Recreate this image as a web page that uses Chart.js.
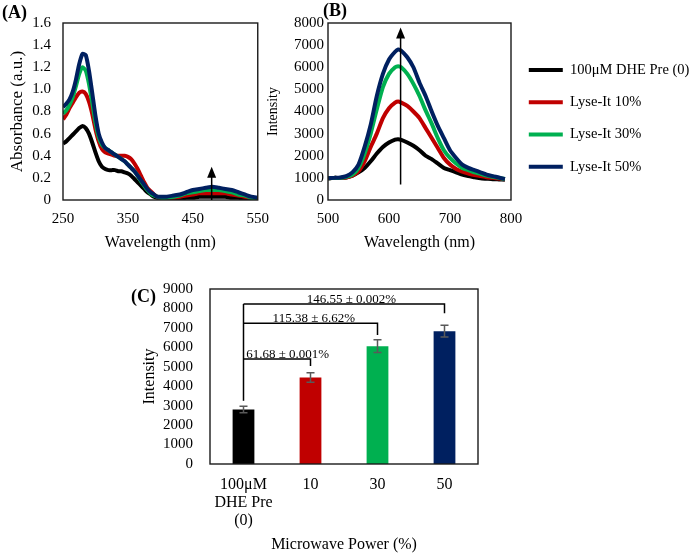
<!DOCTYPE html>
<html>
<head>
<meta charset="utf-8">
<script src="https://cdn.jsdelivr.net/npm/chart.js@4.4.1/dist/chart.umd.min.js"></script>
<style>
  body { margin: 0; background: #fff; }
  #wrap { position: relative; width: 691px; height: 554px; overflow: hidden; }
  canvas { position: absolute; }
  .tag { position: absolute; font: bold 18px "Liberation Serif", serif; line-height: 18px; color: #000; }
</style>
</head>
<body>
<div id="wrap">
  <canvas id="absChart" width="279" height="254" style="left:0;top:0"></canvas>
  <canvas id="flChart" width="429" height="254" style="left:262px;top:0"></canvas>
  <canvas id="barChart" width="365" height="292" style="left:130px;top:262px"></canvas>
  <div class="tag" style="left:2px;top:3px">(A)</div>
  <div class="tag" style="left:323px;top:1px">(B)</div>
  <div class="tag" style="left:131px;top:287px">(C)</div>
</div>
<script>
// ---- data ----
const seriesNames = ["100\u03bcM DHE Pre (0)", "Lyse-It 10%", "Lyse-It 30%", "Lyse-It 50%"];
const seriesColors = ["#000000", "#C00000", "#00B050", "#002060"];

// (A) absorbance
const wlA = [250,255,260,265,270,275,280,285,290,295,300,305,310,315,320,325,330,335,340,345,350,355,360,365,370,375,380,385,390,395,400,
             410,420,430,440,450,460,470,480,490,500,510,520,530,540,550];
const absPre = [0.51,0.53,0.56,0.59,0.62,0.65,0.67,0.65,0.60,0.52,0.43,0.35,0.30,0.28,0.27,0.27,0.27,0.26,0.26,0.25,0.24,0.22,0.19,0.16,0.13,0.10,0.07,0.05,0.03,0.02,0.02,
                0.01,0.01,0.01,0.02,0.02,0.03,0.03,0.03,0.03,0.03,0.02,0.02,0.01,0.01,0.01];
const abs10 = [0.73,0.77,0.83,0.88,0.93,0.97,0.98,0.96,0.89,0.78,0.64,0.53,0.46,0.43,0.42,0.41,0.40,0.40,0.40,0.40,0.39,0.37,0.33,0.28,0.22,0.16,0.11,0.08,0.05,0.03,0.02,
               0.02,0.02,0.03,0.04,0.05,0.06,0.06,0.06,0.06,0.06,0.05,0.04,0.03,0.02,0.01];
const abs30 = [0.78,0.81,0.86,0.93,1.03,1.14,1.20,1.17,1.05,0.88,0.70,0.57,0.50,0.47,0.45,0.43,0.41,0.39,0.37,0.35,0.32,0.29,0.26,0.22,0.17,0.13,0.09,0.06,0.04,0.03,0.02,
               0.02,0.03,0.04,0.06,0.07,0.08,0.09,0.09,0.09,0.08,0.07,0.05,0.04,0.02,0.01];
const abs50 = [0.84,0.87,0.91,0.98,1.09,1.23,1.32,1.31,1.17,0.97,0.76,0.60,0.52,0.47,0.45,0.43,0.41,0.39,0.37,0.35,0.32,0.29,0.26,0.22,0.18,0.14,0.10,0.07,0.05,0.03,0.03,
               0.03,0.04,0.05,0.07,0.09,0.10,0.11,0.12,0.11,0.10,0.09,0.07,0.05,0.03,0.02];

// (B) fluorescence
const wlB = [500,510,520,530,540,550,560,570,580,590,600,610,615,620,630,640,650,660,670,680,690,700,710,720,730,740,750,760,770,780,790];
const flPre = [980,1000,1000,1020,1100,1250,1450,1750,2100,2400,2600,2730,2750,2720,2600,2450,2250,2000,1850,1650,1450,1350,1250,1150,1080,1030,980,960,940,930,920];
const fl10  = [980,1000,1000,1020,1100,1300,1750,2400,3000,3700,4150,4400,4450,4400,4250,4000,3700,3250,2800,2350,1900,1600,1400,1280,1200,1130,1080,1030,1000,970,940];
const fl30  = [980,1000,1000,1050,1150,1450,2100,3000,4100,5100,5700,6000,6050,6000,5700,5250,4700,4050,3450,2800,2250,1900,1650,1450,1350,1250,1180,1100,1050,1000,950];
const fl50  = [980,1000,1020,1080,1250,1600,2400,3400,4700,5700,6350,6700,6800,6750,6450,6000,5300,4700,4000,3350,2800,2250,1900,1600,1450,1350,1250,1150,1080,1020,950];

// (C) peak intensity bars
const powerLabels = [["100\u03bcM", "DHE Pre", "(0)"], "10", "30", "50"];
const peakIntensity = [2800, 4450, 6060, 6830];
const peakError = [170, 240, 325, 300];
const bracketTo = [1, 2, 3];
const bracketTop = [5400, 7240, 8230];
const bracketEnd = [5040, 6640, 7750];
const bracketBase = 3250;
const bracketText = ["61.68 \u00b1 0.001%", "115.38 \u00b1 6.62%", "146.55 \u00b1 0.002%"];
const bracketTextAt = [0.66, 1.05, 1.61];

// arrows: [x, from, to]
const arrowA = [479, 0, 0.3];
const arrowB = [619, 700, 7800];

Chart.defaults.font.family = '"Liberation Serif", "Times New Roman", serif';
Chart.defaults.color = '#000';
Chart.defaults.animation = false;

const noGrid = { display: false, drawTicks: false };

const framePlugin = {
  id: 'frame',
  afterDatasetsDraw(chart) {
    const { ctx, chartArea: a } = chart;
    ctx.save();
    ctx.strokeStyle = '#1a1a1a';
    ctx.lineWidth = 1.4;
    ctx.strokeRect(a.left, a.top, a.right - a.left, a.bottom - a.top);
    ctx.restore();
  }
};

function drawArrow(chart, arrow) {
  const { ctx, scales } = chart;
  const px = scales.x.getPixelForValue(arrow[0]);
  const p0 = scales.y.getPixelForValue(arrow[1]);
  const p1 = scales.y.getPixelForValue(arrow[2]);
  ctx.save();
  ctx.strokeStyle = '#000';
  ctx.fillStyle = '#000';
  ctx.lineWidth = 1.5;
  ctx.beginPath();
  ctx.moveTo(px, p0);
  ctx.lineTo(px, p1 + 8);
  ctx.stroke();
  ctx.beginPath();
  ctx.moveTo(px, p1);
  ctx.lineTo(px - 4.5, p1 + 11);
  ctx.lineTo(px + 4.5, p1 + 11);
  ctx.closePath();
  ctx.fill();
  ctx.restore();
}

function lineSets(xs, ys) {
  return ys.map((vals, i) => ({
    label: seriesNames[i],
    data: xs.map((x, j) => ({ x: x, y: vals[j] })),
    borderColor: seriesColors[i],
    backgroundColor: seriesColors[i],
    borderWidth: 4,
    pointRadius: 0,
    tension: 0.2,
    order: 3 - i
  }));
}

const noComma = v => String(v);

// ---- (A) ----
new Chart(document.getElementById('absChart'), {
  type: 'line',
  data: { datasets: lineSets(wlA, [absPre, abs10, abs30, abs50]) },
  options: {
    responsive: false,
    layout: { padding: { top: 23 } },
    plugins: { legend: { display: false }, tooltip: { enabled: false } },
    scales: {
      x: {
        type: 'linear', min: 250, max: 550,
        grid: noGrid, border: { display: false },
        ticks: { stepSize: 100, padding: 10, maxRotation: 0, font: { size: 15 } },
        title: { display: true, text: 'Wavelength (nm)', font: { size: 16 }, padding: { top: 5, bottom: 1.5 } },
        afterFit(s) { s.height = 54; }
      },
      y: {
        min: 0, max: 1.6,
        grid: noGrid, border: { display: false },
        ticks: { stepSize: 0.2, autoSkip: false, padding: 12, font: { size: 15 } },
        title: { display: true, text: 'Absorbance (a.u.)', font: { size: 17 }, padding: { top: 7.8, bottom: 0 } },
        afterFit(s) { s.width = 63; }
      }
    }
  },
  plugins: [framePlugin, { id: 'arrowA', afterDatasetsDraw(c) { drawArrow(c, arrowA); } }]
});

// ---- (B) ----
new Chart(document.getElementById('flChart'), {
  type: 'line',
  data: { datasets: lineSets(wlB, [flPre, fl10, fl30, fl50]) },
  options: {
    responsive: false,
    layout: { padding: { top: 23 } },
    plugins: {
      tooltip: { enabled: false },
      legend: {
        position: 'right', align: 'start', maxWidth: 180,
        title: { display: true, text: '', font: { size: 12 }, padding: { top: 7.5, bottom: 0 } },
        labels: {
          usePointStyle: true, pointStyle: 'line', pointStyleWidth: 34,
          padding: 17.8, color: '#000', font: { size: 14.5 },
          sort: (a, b) => a.datasetIndex - b.datasetIndex
        }
      }
    },
    scales: {
      x: {
        type: 'linear', min: 500, max: 800,
        grid: noGrid, border: { display: false },
        ticks: { stepSize: 100, padding: 10, maxRotation: 0, font: { size: 15 } },
        title: { display: true, text: 'Wavelength (nm)', font: { size: 16 }, padding: { top: 5, bottom: 1.5 } },
        afterFit(s) { s.height = 54; }
      },
      y: {
        min: 0, max: 8000,
        grid: noGrid, border: { display: false },
        ticks: { stepSize: 1000, autoSkip: false, padding: 4, font: { size: 15 }, callback: noComma },
        title: { display: true, text: 'Intensity', font: { size: 14 }, padding: { top: 2.6, bottom: 0 } },
        afterFit(s) { s.width = 66; }
      }
    }
  },
  plugins: [framePlugin, { id: 'arrowB', afterDatasetsDraw(c) { drawArrow(c, arrowB); } }]
});

// ---- (C) ----
const annotatePlugin = {
  id: 'errorsAndBrackets',
  afterDatasetsDraw(chart) {
    const { ctx, scales: { x, y } } = chart;
    ctx.save();
    // error bars
    ctx.strokeStyle = '#595959';
    ctx.lineWidth = 1.5;
    peakIntensity.forEach((v, i) => {
      const px = x.getPixelForValue(i);
      const hi = y.getPixelForValue(v + peakError[i]);
      const lo = y.getPixelForValue(v - peakError[i]);
      ctx.beginPath();
      ctx.moveTo(px, hi); ctx.lineTo(px, lo);
      ctx.moveTo(px - 4, hi); ctx.lineTo(px + 4, hi);
      ctx.moveTo(px - 4, lo); ctx.lineTo(px + 4, lo);
      ctx.stroke();
    });
    // significance brackets
    ctx.strokeStyle = '#000';
    ctx.lineWidth = 1.5;
    const x0 = x.getPixelForValue(0);
    ctx.beginPath();
    ctx.moveTo(x0, y.getPixelForValue(bracketBase));
    ctx.lineTo(x0, y.getPixelForValue(Math.max(...bracketTop)));
    ctx.stroke();
    ctx.font = '13px "Liberation Serif", serif';
    ctx.fillStyle = '#000';
    ctx.textAlign = 'center';
    ctx.textBaseline = 'alphabetic';
    bracketTo.forEach((to, i) => {
      const xt = x.getPixelForValue(to);
      const yt = y.getPixelForValue(bracketTop[i]);
      ctx.beginPath();
      ctx.moveTo(x0, yt);
      ctx.lineTo(xt, yt);
      ctx.lineTo(xt, y.getPixelForValue(bracketEnd[i]));
      ctx.stroke();
      ctx.fillText(bracketText[i], x.getPixelForValue(bracketTextAt[i]), yt - 1);
    });
    ctx.restore();
  }
};

new Chart(document.getElementById('barChart'), {
  type: 'bar',
  data: {
    labels: powerLabels,
    datasets: [{
      data: peakIntensity,
      backgroundColor: seriesColors,
      borderWidth: 0,
      categoryPercentage: 1,
      barPercentage: 0.325
    }]
  },
  options: {
    responsive: false,
    layout: { padding: { top: 27, right: 17 } },
    plugins: { legend: { display: false }, tooltip: { enabled: false } },
    scales: {
      x: {
        grid: noGrid, border: { display: false },
        ticks: { padding: 12, maxRotation: 0, font: { size: 16, lineHeight: 1.125 } },
        title: { display: true, text: 'Microwave Power (%)', font: { size: 16, lineHeight: 1 }, padding: { top: 7, bottom: 1.5 } },
        afterFit(s) { s.height = 90; }
      },
      y: {
        min: 0, max: 9000,
        grid: noGrid, border: { display: false },
        ticks: { stepSize: 1000, autoSkip: false, padding: 17, font: { size: 15 }, callback: noComma },
        title: { display: true, text: 'Intensity', font: { size: 16 }, padding: { top: 10.4, bottom: 0 } },
        afterFit(s) { s.width = 80; }
      }
    }
  },
  plugins: [framePlugin, annotatePlugin]
});
</script>
</body>
</html>
